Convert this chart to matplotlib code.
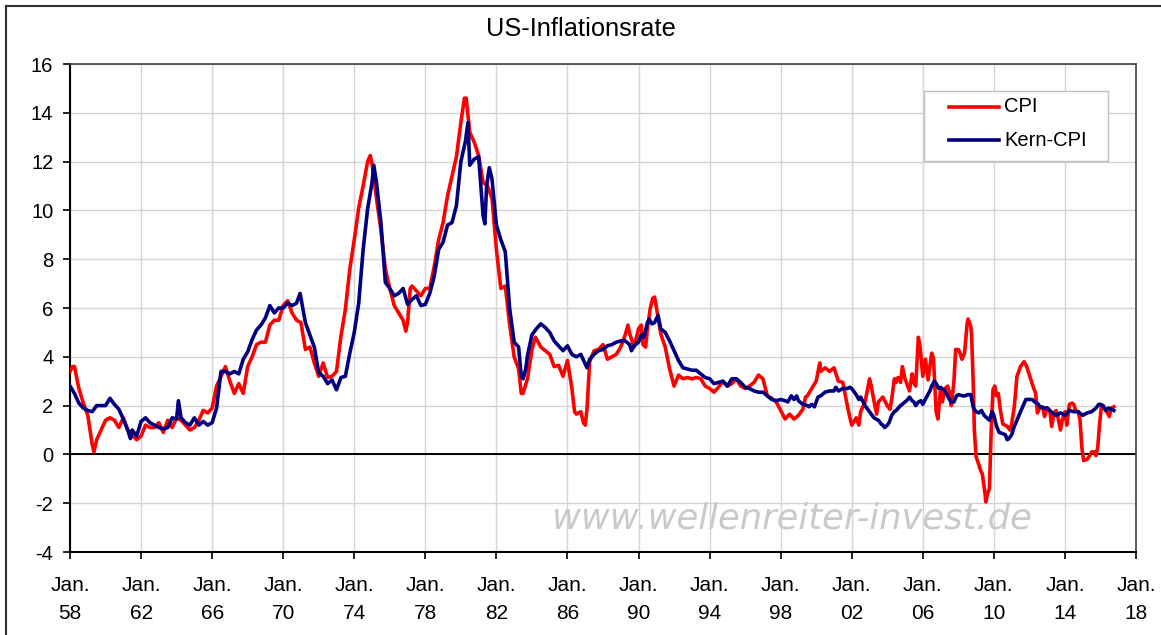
import matplotlib
matplotlib.use("Agg")
import matplotlib.pyplot as plt
from matplotlib.lines import Line2D
from matplotlib.patches import Rectangle

plt.rcParams['font.family'] = ['Liberation Sans', 'DejaVu Sans']
plt.rcParams['axes.unicode_minus'] = False

cpi_dates = [
    1958.0, 1958.15, 1958.25, 1958.5, 1958.75,
    1959.0, 1959.25, 1959.35, 1959.5, 1959.75,
    1960.0, 1960.25, 1960.5, 1960.75,
    1961.0, 1961.25, 1961.5, 1961.75,
    1962.0, 1962.25, 1962.5, 1962.75,
    1963.0, 1963.25, 1963.5, 1963.75,
    1964.0, 1964.25, 1964.5, 1964.75,
    1965.0, 1965.25, 1965.5, 1965.75,
    1966.0, 1966.25, 1966.5, 1966.75,
    1967.0, 1967.25, 1967.5, 1967.75,
    1968.0, 1968.25, 1968.5, 1968.75,
    1969.0, 1969.25, 1969.5, 1969.75,
    1970.0, 1970.25, 1970.5, 1970.75,
    1971.0, 1971.25, 1971.5, 1971.75,
    1972.0, 1972.25, 1972.5, 1972.75,
    1973.0, 1973.25, 1973.5, 1973.75,
    1974.0, 1974.25, 1974.5, 1974.75, 1974.9,
    1975.0, 1975.25, 1975.5, 1975.75,
    1976.0, 1976.25, 1976.5, 1976.75, 1976.9,
    1977.0, 1977.15, 1977.25, 1977.5, 1977.75,
    1978.0, 1978.25, 1978.5, 1978.75,
    1979.0, 1979.25, 1979.5, 1979.75,
    1980.0, 1980.2, 1980.3, 1980.5, 1980.75,
    1981.0, 1981.25, 1981.5, 1981.75,
    1982.0, 1982.25, 1982.5, 1982.75,
    1983.0, 1983.25, 1983.4, 1983.5, 1983.75,
    1984.0, 1984.2, 1984.5, 1984.75,
    1985.0, 1985.25, 1985.5, 1985.75,
    1986.0, 1986.25, 1986.4, 1986.5, 1986.75, 1986.9,
    1987.0, 1987.1, 1987.25, 1987.5, 1987.75,
    1988.0, 1988.25, 1988.5, 1988.75,
    1989.0, 1989.25, 1989.4, 1989.5, 1989.75,
    1990.0, 1990.15, 1990.25, 1990.4, 1990.5, 1990.65, 1990.8, 1990.9,
    1991.0, 1991.25, 1991.5, 1991.75,
    1992.0, 1992.25, 1992.5, 1992.75,
    1993.0, 1993.25, 1993.5, 1993.75,
    1994.0, 1994.25, 1994.5, 1994.75,
    1995.0, 1995.25, 1995.5, 1995.75,
    1996.0, 1996.25, 1996.5, 1996.75,
    1997.0, 1997.25, 1997.5, 1997.75,
    1998.0, 1998.25, 1998.5, 1998.75,
    1999.0, 1999.25, 1999.4, 1999.5, 1999.75,
    2000.0, 2000.2, 2000.25, 2000.5, 2000.75,
    2001.0, 2001.25, 2001.5, 2001.75, 2001.9,
    2002.0, 2002.25, 2002.4, 2002.5, 2002.75, 2002.9,
    2003.0, 2003.1, 2003.25, 2003.4, 2003.5, 2003.75,
    2004.0, 2004.15, 2004.25, 2004.4, 2004.5, 2004.6, 2004.75, 2004.85,
    2005.0, 2005.25, 2005.4, 2005.5, 2005.6, 2005.7, 2005.75, 2005.85,
    2006.0, 2006.15, 2006.3, 2006.5, 2006.6, 2006.75, 2006.85,
    2007.0, 2007.1, 2007.25, 2007.4, 2007.5, 2007.6, 2007.75, 2007.85,
    2008.0, 2008.1, 2008.2, 2008.35, 2008.5, 2008.55, 2008.7, 2008.75, 2008.85, 2008.9,
    2009.0, 2009.1, 2009.25, 2009.35, 2009.5, 2009.55, 2009.65, 2009.75, 2009.85, 2009.95,
    2010.05, 2010.15, 2010.25, 2010.35, 2010.5, 2010.75, 2010.9,
    2011.0, 2011.15, 2011.3, 2011.5, 2011.7, 2011.85,
    2012.0, 2012.2, 2012.35, 2012.45, 2012.6, 2012.75, 2012.85,
    2013.0, 2013.15, 2013.25, 2013.4, 2013.5, 2013.6, 2013.75, 2013.85,
    2014.0, 2014.1, 2014.25, 2014.4, 2014.5, 2014.6, 2014.75, 2014.85, 2014.95,
    2015.05, 2015.25, 2015.4, 2015.5, 2015.65, 2015.75, 2015.85, 2015.95,
    2016.05, 2016.2, 2016.35, 2016.5, 2016.6, 2016.75,
]
cpi_values = [
    3.4, 3.6, 3.6, 2.7, 2.1,
    1.6, 0.4, 0.1, 0.6, 1.0,
    1.4, 1.5, 1.4, 1.1,
    1.5, 1.0, 0.8, 0.6,
    0.75, 1.2, 1.1, 1.1,
    1.3, 0.9, 1.4, 1.1,
    1.5, 1.4, 1.2, 1.0,
    1.1, 1.4, 1.8, 1.7,
    1.9, 2.8, 3.2, 3.6,
    3.0, 2.5, 2.9, 2.5,
    3.6, 4.0, 4.5, 4.6,
    4.6, 5.3, 5.5, 5.5,
    6.1, 6.3, 5.8, 5.5,
    5.4, 4.3, 4.4, 3.75,
    3.2, 3.75, 3.15, 3.2,
    3.4, 4.85, 5.95, 7.6,
    8.8, 10.1, 11.0, 12.0, 12.25,
    11.9, 10.5, 9.2, 7.6,
    6.8, 6.1, 5.8, 5.5, 5.05,
    5.4, 6.8, 6.9, 6.7, 6.5,
    6.8, 6.8, 7.7, 8.8,
    9.5, 10.6, 11.4, 12.2,
    13.6, 14.6, 14.6, 13.2, 12.8,
    12.25, 11.15, 11.0, 10.5,
    8.4, 6.8, 6.9, 5.3,
    4.0, 3.5, 2.5, 2.5, 3.1,
    4.3, 4.8, 4.4, 4.25,
    4.1, 3.6, 3.65, 3.2,
    3.85, 2.7, 1.75, 1.65, 1.75, 1.3,
    1.2, 1.85, 3.8, 4.25, 4.3,
    4.5, 3.9, 4.0, 4.1,
    4.4, 4.9, 5.3, 4.95, 4.4,
    5.15, 5.3, 4.5, 4.4, 5.15, 5.95, 6.4, 6.45,
    6.05, 4.95, 4.4, 3.5,
    2.8, 3.25, 3.1, 3.15,
    3.1, 3.15, 3.1, 2.8,
    2.7, 2.55, 2.75, 3.0,
    2.8, 2.9, 3.1, 2.8,
    2.7, 2.8, 2.95, 3.25,
    3.1, 2.4, 2.3, 2.15,
    1.8, 1.45, 1.65, 1.45,
    1.6, 1.85, 2.35, 2.4, 2.7,
    3.0, 3.75, 3.4, 3.55, 3.4,
    3.55, 3.0, 2.95, 2.0, 1.5,
    1.2, 1.5, 1.2, 1.75, 2.15, 2.7,
    3.1, 2.8, 2.2, 1.65, 2.15, 2.35,
    2.0, 1.85, 2.25, 3.1, 2.95, 3.15, 2.95, 3.6,
    3.1, 2.6, 3.3, 2.95, 2.8, 4.15, 4.8, 4.4,
    3.2, 3.9, 3.05, 4.15, 3.95, 1.75, 1.45,
    2.7, 2.15, 2.7, 2.8, 2.55, 2.0, 2.95, 4.3,
    4.3, 4.15, 3.9, 4.15, 5.4, 5.55, 5.25, 4.85, 2.65, 1.0,
    -0.1, -0.3, -0.65, -0.8, -1.6, -1.95, -1.6, -1.4, 1.0, 2.65,
    2.8, 2.4, 2.5, 1.9, 1.25, 1.15, 1.0,
    1.25, 1.95, 3.2, 3.6, 3.8, 3.6,
    3.25, 2.8, 2.5, 1.7, 1.95, 1.95, 1.55,
    1.9, 1.8, 1.15, 1.7, 1.8, 1.55, 1.0, 1.4,
    1.75, 1.2, 2.05, 2.1, 2.05, 1.8, 1.75, 1.4, 0.3,
    -0.25, -0.2, -0.05, 0.1, 0.1, -0.05, 0.3, 1.25,
    1.95, 1.9, 1.75, 1.55, 1.9, 1.95,
]

# Kern-CPI (ohne Energie und Nahrungsmittel)
core_dates = [
    1958.0, 1958.25, 1958.5, 1958.75,
    1959.0, 1959.25, 1959.5, 1959.75,
    1960.0, 1960.25, 1960.5, 1960.75,
    1961.0, 1961.25, 1961.4, 1961.5, 1961.75,
    1962.0, 1962.25, 1962.5, 1962.75,
    1963.0, 1963.25, 1963.5, 1963.75,
    1964.0, 1964.1, 1964.25, 1964.5, 1964.75,
    1965.0, 1965.25, 1965.5, 1965.75,
    1966.0, 1966.25, 1966.5, 1966.75,
    1967.0, 1967.25, 1967.5, 1967.75,
    1968.0, 1968.25, 1968.5, 1968.75,
    1969.0, 1969.25, 1969.5, 1969.75,
    1970.0, 1970.25, 1970.5, 1970.75, 1970.95,
    1971.25, 1971.5, 1971.75,
    1972.0, 1972.25, 1972.5, 1972.75,
    1973.0, 1973.25, 1973.5, 1973.75,
    1974.0, 1974.25, 1974.5, 1974.75,
    1975.0, 1975.1, 1975.25, 1975.5, 1975.75,
    1976.0, 1976.25, 1976.5, 1976.75,
    1977.0, 1977.25, 1977.5, 1977.75,
    1978.0, 1978.25, 1978.5, 1978.75,
    1979.0, 1979.25, 1979.5, 1979.75,
    1980.0, 1980.25, 1980.4, 1980.5, 1980.75,
    1981.0, 1981.25, 1981.35, 1981.45, 1981.6, 1981.75,
    1982.0, 1982.25, 1982.5, 1982.75,
    1983.0, 1983.25, 1983.4, 1983.5, 1983.65, 1983.75,
    1984.0, 1984.25, 1984.5, 1984.75,
    1985.0, 1985.25, 1985.5, 1985.75,
    1986.0, 1986.25, 1986.5, 1986.75,
    1987.0, 1987.1, 1987.25, 1987.5, 1987.75,
    1988.0, 1988.25, 1988.5, 1988.75,
    1989.0, 1989.25, 1989.5, 1989.6, 1989.75,
    1990.0, 1990.15, 1990.3, 1990.5, 1990.6, 1990.75, 1990.9,
    1991.0, 1991.1, 1991.25, 1991.5, 1991.75,
    1992.0, 1992.25, 1992.5, 1992.75,
    1993.0, 1993.25, 1993.5, 1993.75,
    1994.0, 1994.25, 1994.5, 1994.75,
    1995.0, 1995.25, 1995.5, 1995.75,
    1996.0, 1996.25, 1996.5, 1996.75,
    1997.0, 1997.25, 1997.5, 1997.75,
    1998.0, 1998.25, 1998.4, 1998.6, 1998.75, 1998.9,
    1999.0, 1999.25, 1999.5, 1999.6, 1999.75, 1999.9,
    2000.0, 2000.1, 2000.25, 2000.5, 2000.75,
    2001.0, 2001.1, 2001.25, 2001.5, 2001.75, 2001.9,
    2002.0, 2002.25, 2002.4, 2002.5, 2002.75,
    2003.0, 2003.25, 2003.5, 2003.65, 2003.75, 2003.85,
    2004.0, 2004.1, 2004.25, 2004.4, 2004.5, 2004.75,
    2005.0, 2005.15, 2005.25, 2005.4, 2005.5, 2005.6, 2005.75, 2005.9,
    2006.0, 2006.1, 2006.25, 2006.4, 2006.5, 2006.65, 2006.75, 2006.9,
    2007.0, 2007.25, 2007.4, 2007.5, 2007.6, 2007.75, 2007.9,
    2008.0, 2008.25, 2008.4, 2008.5, 2008.7, 2008.85,
    2009.0, 2009.15, 2009.3, 2009.45, 2009.6, 2009.75, 2009.9,
    2010.0, 2010.15, 2010.3, 2010.5, 2010.65, 2010.75, 2010.85,
    2011.0, 2011.15, 2011.3, 2011.5, 2011.65, 2011.8,
    2012.0, 2012.15, 2012.3, 2012.45, 2012.6, 2012.75,
    2013.0, 2013.15, 2013.3, 2013.5, 2013.75,
    2014.0, 2014.25, 2014.5, 2014.75,
    2015.0, 2015.25, 2015.5, 2015.75, 2015.9,
    2016.0, 2016.15, 2016.3, 2016.45, 2016.6, 2016.75,
]
core_values = [
    2.8, 2.5, 2.1, 1.9,
    1.8, 1.75, 2.0, 2.0,
    2.0, 2.3, 2.05, 1.85,
    1.45, 1.0, 0.65, 1.0, 0.75,
    1.35, 1.5, 1.3, 1.2,
    1.1, 1.05, 1.1, 1.5,
    1.45, 2.2, 1.5, 1.3, 1.2,
    1.5, 1.2, 1.35, 1.2,
    1.3, 1.9, 3.4, 3.4,
    3.3, 3.4, 3.3, 3.9,
    4.2, 4.7, 5.1, 5.3,
    5.6, 6.1, 5.8, 6.0,
    6.0, 6.2, 6.1, 6.2, 6.6,
    5.4, 4.9, 4.4,
    3.35, 3.2, 2.9, 3.05,
    2.65, 3.15, 3.2, 4.15,
    5.0, 6.2, 8.4, 10.05,
    11.15, 11.85, 11.15, 9.5, 7.05,
    6.8, 6.5, 6.6, 6.8,
    6.15, 6.35, 6.5, 6.1,
    6.15, 6.6, 7.3, 8.4,
    8.7, 9.4, 9.5, 10.2,
    12.0, 12.8, 13.6, 11.85, 12.1,
    12.2, 9.8, 9.45, 11.0, 11.75, 11.3,
    9.4, 8.8, 8.3, 5.95,
    4.6, 4.4, 3.2, 3.1, 3.5, 4.05,
    4.9, 5.15, 5.35, 5.2,
    5.0, 4.65, 4.45, 4.25,
    4.45, 4.1, 4.0, 4.1,
    3.7, 3.55, 3.9, 4.1, 4.25,
    4.3, 4.45, 4.5, 4.6,
    4.65, 4.65, 4.5, 4.25, 4.45,
    4.6, 4.9, 4.8, 5.4, 5.55, 5.35, 5.4,
    5.55, 5.7, 5.15, 5.0, 4.65,
    4.25, 3.85, 3.55, 3.5,
    3.45, 3.45, 3.3, 3.15,
    3.1, 2.9, 2.95, 3.0,
    2.8, 3.1, 3.1, 2.95,
    2.75, 2.7, 2.6, 2.55,
    2.55, 2.4, 2.25, 2.2,
    2.25, 2.2, 2.15, 2.4, 2.25, 2.4,
    2.2, 2.05, 2.0, 1.95, 2.05, 1.95,
    2.15, 2.35, 2.4, 2.55, 2.6,
    2.6, 2.75, 2.6, 2.7, 2.7, 2.75,
    2.7, 2.45, 2.25, 2.35, 2.0,
    1.75, 1.5, 1.4, 1.25, 1.2, 1.1,
    1.2, 1.3, 1.6, 1.75, 1.8, 2.0,
    2.15, 2.25, 2.35, 2.2, 2.15, 2.0, 2.15, 2.2,
    2.05, 2.2, 2.4, 2.6, 2.8, 3.0, 2.9, 2.7,
    2.75, 2.6, 2.4, 2.25, 2.15, 2.15, 2.4,
    2.45, 2.4, 2.4, 2.45, 2.45, 1.9,
    1.75, 1.7, 1.8, 1.6, 1.5, 1.4, 1.75,
    1.6, 1.15, 0.9, 0.85, 0.8, 0.6, 0.65,
    0.8, 1.15, 1.4, 1.75, 2.0, 2.25,
    2.25, 2.25, 2.15, 2.1, 1.95, 1.9,
    1.9, 1.8, 1.7, 1.6, 1.7,
    1.6, 1.8, 1.75, 1.75,
    1.6, 1.7, 1.75, 1.9, 2.05,
    2.05, 2.0, 1.8, 1.9, 1.85, 1.8,
]

tick_years = list(range(1958, 2019, 4))
tick_labels = ['Jan.\n%02d' % (y % 100) for y in tick_years]

W, H = 1161, 635
fig = plt.figure(figsize=(W / 100, H / 100), dpi=100)
ax = fig.add_axes([70 / W, 1 - 552 / H, 1066 / W, 488 / H])

ax.plot(cpi_dates, cpi_values, color='#ff0000', lw=2.6, zorder=3)
ax.plot(core_dates, core_values, color='#000080', lw=2.6, zorder=4)
ax.axhline(0, color='black', lw=1.4, zorder=2)

ax.set_xlim(1958, 2018)
ax.set_ylim(-4, 16)
ax.set_xticks(tick_years)
ax.set_xticklabels(tick_labels, linespacing=1.65)
ax.set_yticks(range(-4, 17, 2))
ax.grid(True, color='#d4d4d4', lw=1.0)
ax.set_axisbelow(True)

for side in ['left', 'bottom']:
    ax.spines[side].set_color('black')
    ax.spines[side].set_linewidth(1.5)
for side in ['top', 'right']:
    ax.spines[side].set_color('#404040')
    ax.spines[side].set_linewidth(1.2)

ax.tick_params(axis='both', direction='out', length=5, width=1.2)
ax.tick_params(axis='y', pad=7, labelsize=14.5)
ax.tick_params(axis='x', pad=12, labelsize=15)

# Titel und Rahmen
fig.text(0.5, 1 - 36 / H, 'US-Inflationsrate', ha='center', va='baseline', fontsize=18.3)
fig.add_artist(Line2D([6 / W, 6 / W], [0, 1 - 6 / H], transform=fig.transFigure, color='#303030', lw=1.5))
fig.add_artist(Line2D([6 / W, 1], [1 - 6 / H, 1 - 6 / H], transform=fig.transFigure, color='#303030', lw=1.5))

# Legende
fig.add_artist(Rectangle((924 / W, 1 - 161 / H), 184 / W, 70 / H, transform=fig.transFigure,
                         facecolor='white', edgecolor='#c0c0c0', lw=1.0))
for yy, col, lab in [(107, '#ff0000', 'CPI'), (140, '#000080', 'Kern-CPI')]:
    fig.add_artist(Line2D([949 / W, 999 / W], [1 - yy / H, 1 - yy / H], transform=fig.transFigure,
                          color=col, lw=2.6))
    fig.text(1004 / W, 1 - yy / H, lab, ha='left', va='center', fontsize=14.5)

# Wasserzeichen
fig.text(552 / W, 1 - 528.5 / H, 'www.wellenreiter-invest.de', ha='left', va='baseline',
         fontsize=25.5, family='DejaVu Sans', style='oblique', color='#cacaca', zorder=0.5)

fig.savefig('out.png', dpi=100)
